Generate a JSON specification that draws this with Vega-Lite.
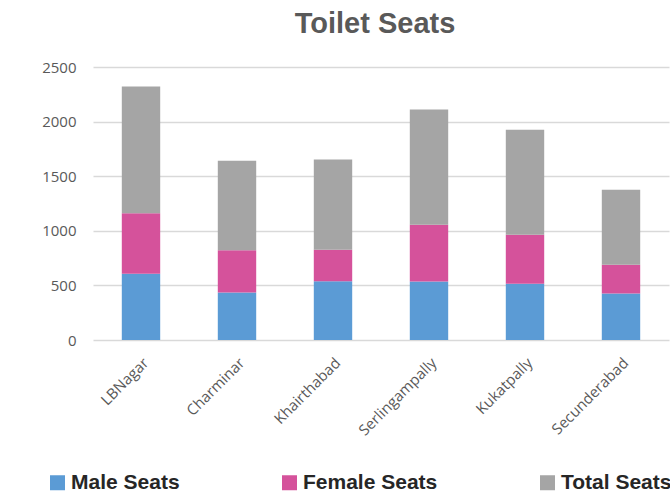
{
  "$schema": "https://vega.github.io/schema/vega-lite/v6.json",
  "autosize": {"type": "none"},
  "width": 576,
  "height": 273,
  "padding": {"left": 93, "top": 67, "right": 1, "bottom": 155},
  "background": "#ffffff",
  "title": {
    "text": "Toilet Seats",
    "font": "Liberation Sans",
    "fontSize": 29,
    "fontWeight": "bold",
    "color": "#595959",
    "anchor": "middle",
    "offset": 21,
    "dx": -6
  },
  "data": {
    "values": [
      {"region": "LBNagar", "series": "Male Seats", "value": 606},
      {"region": "LBNagar", "series": "Female Seats", "value": 555},
      {"region": "LBNagar", "series": "Total Seats", "value": 1161},
      {"region": "Charminar", "series": "Male Seats", "value": 435},
      {"region": "Charminar", "series": "Female Seats", "value": 386},
      {"region": "Charminar", "series": "Total Seats", "value": 821},
      {"region": "Khairthabad", "series": "Male Seats", "value": 539},
      {"region": "Khairthabad", "series": "Female Seats", "value": 288},
      {"region": "Khairthabad", "series": "Total Seats", "value": 827},
      {"region": "Serlingampally", "series": "Male Seats", "value": 536},
      {"region": "Serlingampally", "series": "Female Seats", "value": 519},
      {"region": "Serlingampally", "series": "Total Seats", "value": 1055},
      {"region": "Kukatpally", "series": "Male Seats", "value": 515},
      {"region": "Kukatpally", "series": "Female Seats", "value": 448},
      {"region": "Kukatpally", "series": "Total Seats", "value": 963},
      {"region": "Secunderabad", "series": "Male Seats", "value": 425},
      {"region": "Secunderabad", "series": "Female Seats", "value": 263},
      {"region": "Secunderabad", "series": "Total Seats", "value": 688}
    ]
  },
  "transform": [
    {"calculate": "indexof(['Male Seats', 'Female Seats', 'Total Seats'], datum.series)", "as": "stackRank"}
  ],
  "mark": {"type": "bar"},
  "encoding": {
    "x": {
      "field": "region",
      "type": "nominal",
      "sort": null,
      "scale": {"paddingInner": 0.6, "paddingOuter": 0.3},
      "axis": {
        "title": null,
        "labelAngle": -45,
        "labelFont": "Open Sans",
        "labelFontSize": 15,
        "labelColor": "#595959",
        "ticks": false,
        "domain": false,
        "labelPadding": 15
      }
    },
    "y": {
      "field": "value",
      "type": "quantitative",
      "stack": "zero",
      "scale": {"domain": [0, 2500], "nice": false},
      "axis": {
        "title": null,
        "values": [0, 500, 1000, 1500, 2000, 2500],
        "format": "d",
        "labelFont": "Open Sans",
        "labelFontSize": 15,
        "labelColor": "#595959",
        "ticks": false,
        "domain": false,
        "labelPadding": 17,
        "gridColor": "#d9d9d9",
        "gridWidth": 1.3
      }
    },
    "order": {"field": "stackRank", "type": "quantitative", "sort": "ascending"},
    "color": {
      "field": "series",
      "type": "nominal",
      "sort": ["Male Seats", "Female Seats", "Total Seats"],
      "scale": {
        "domain": ["Male Seats", "Female Seats", "Total Seats"],
        "range": ["#5B9BD5", "#D5529B", "#A5A5A5"]
      },
      "legend": {
        "title": null,
        "orient": "none",
        "direction": "horizontal",
        "columns": 3,
        "columnPadding": 99,
        "legendX": -46,
        "legendY": 405,
        "symbolType": "square",
        "symbolSize": 225,
        "symbolStrokeWidth": 0,
        "labelOffset": 3,
        "labelFont": "Liberation Sans",
        "labelFontSize": 21,
        "labelFontWeight": "bold",
        "labelColor": "#262626",
        "labelLimit": 300
      }
    }
  },
  "config": {"view": {"stroke": null}}
}
